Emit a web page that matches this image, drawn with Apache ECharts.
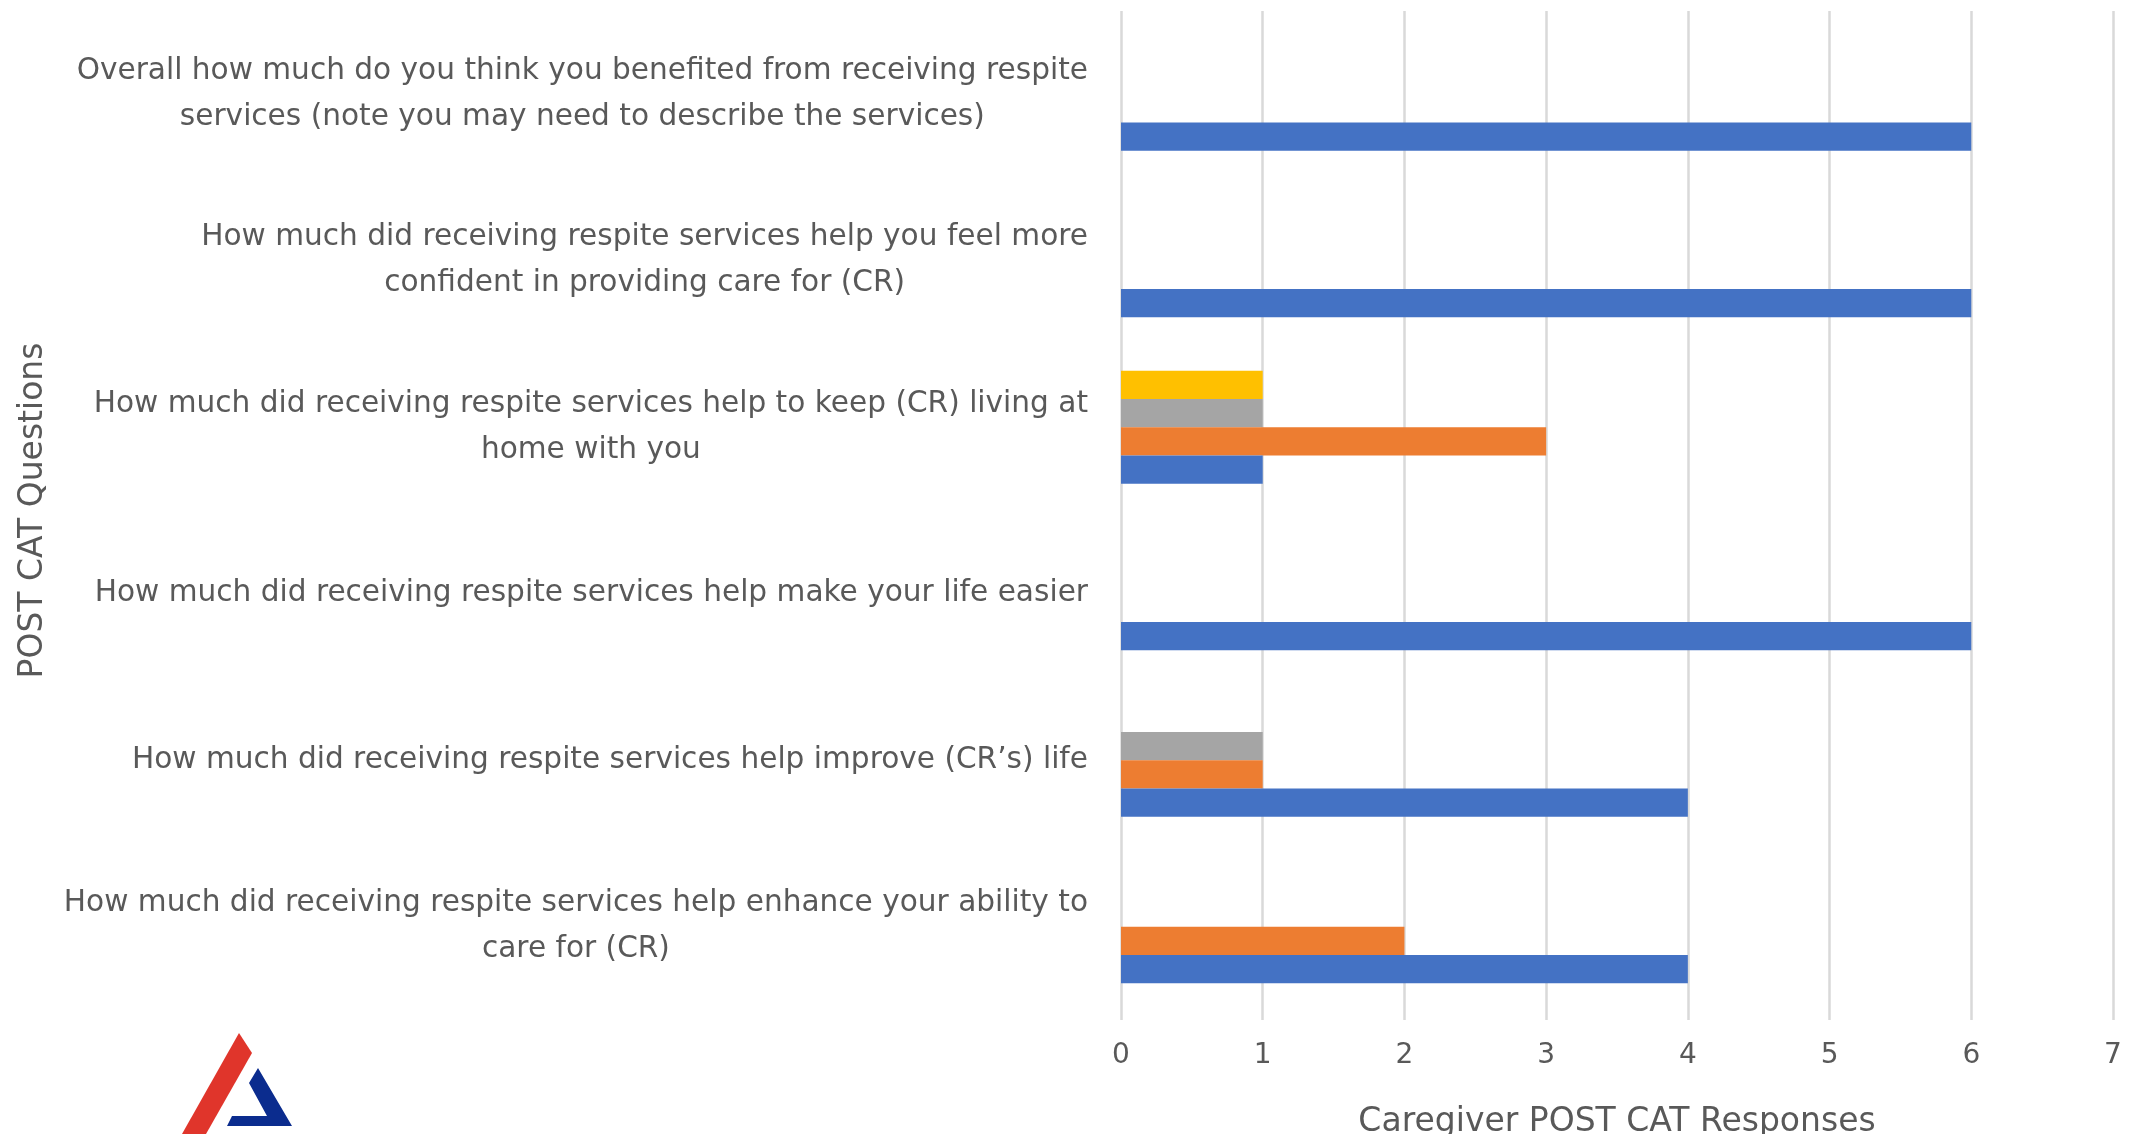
<!DOCTYPE html>
<html>
<head>
<meta charset="utf-8">
<script src="https://cdn.jsdelivr.net/npm/echarts@6/dist/echarts.min.js"></script>
<style>
  html, body { margin: 0; padding: 0; background: #fff; }
  #chart { width: 2141px; height: 1134px; }
</style>
</head>
<body>
<div id="chart"></div>
<script>
// categories, bottom to top as on the chart
var questions = [
  'How much did receiving respite services help enhance your ability to\ncare for (CR)',
  'How much did receiving respite services help improve (CR\u2019s) life',
  'How much did receiving respite services help make your life easier',
  'How much did receiving respite services help to keep (CR) living at\nhome with you',
  'How much did receiving respite services help you feel more\nconfident in providing care for (CR)',
  'Overall how much do you think you benefited from receiving respite\nservices (note you may need to describe the services)'
];
var xTicks = [0, 1, 2, 3, 4, 5, 6, 7];

// response counts per question
var blueVals = [4, 4, 6, 1, 6, 6];
var orangeVals = [2, 1, 0, 3, 0, 0];
var grayVals = [0, 1, 0, 1, 0, 0];
var yellowVals = [0, 0, 0, 1, 0, 0];

var textColor = '#595959';
var font = 'DejaVu Sans';

var myChart = echarts.init(document.getElementById('chart'));

function bar(name, color, data) {
  return {
    name: name,
    type: 'bar',
    data: data,
    barGap: '0%',
    barCategoryGap: '32%',
    itemStyle: { color: color },
    silent: true
  };
}

var option = {
  backgroundColor: '#ffffff',
  animation: false,
  grid: { left: 1121, right: 28, top: 11, bottom: 124, outerBoundsMode: 'none', containLabel: false },
  xAxis: {
    type: 'value',
    min: xTicks[0],
    max: xTicks[xTicks.length - 1],
    interval: 1,
    name: 'Caregiver POST CAT Responses',
    nameLocation: 'middle',
    nameGap: 96,
    nameTextStyle: { color: textColor, fontFamily: font, fontSize: 33 },
    axisLine: { show: false },
    axisTick: { show: true, length: 10, lineStyle: { color: '#d9d9d9', width: 2.5 } },
    axisLabel: { color: textColor, fontFamily: font, fontSize: 28, margin: 32 },
    splitLine: { show: true, lineStyle: { color: '#d9d9d9', width: 2.5 } }
  },
  yAxis: {
    type: 'category',
    data: questions,
    name: 'POST CAT Questions',
    nameLocation: 'middle',
    nameRotate: 90,
    nameGap: 1071,
    nameTextStyle: { color: textColor, fontFamily: font, fontSize: 33 },
    axisLine: { show: false },
    axisTick: { show: false },
    axisLabel: {
      margin: 33,
      align: 'right',
      lineHeight: 46,
      formatter: function (v) {
        return v.split('\n').map(function (s) { return '{c|' + s + '}'; }).join('\n');
      },
      rich: {
        c: { align: 'center', color: textColor, fontFamily: font, fontSize: 29.6, lineHeight: 46 }
      }
    }
  },
  // series drawn top to bottom inside each group
  series: [
    bar('Response 4', '#FFC000', yellowVals),
    bar('Response 3', '#A5A5A5', grayVals),
    bar('Response 2', '#ED7D31', orangeVals),
    bar('Response 1', '#4472C4', blueVals)
  ],
  graphic: [
    {
      type: 'polygon',
      shape: { points: [[239, 1033], [252, 1053], [206, 1134], [182, 1134]] },
      style: { fill: '#E0352B' },
      silent: true
    },
    {
      type: 'polygon',
      shape: { points: [[258, 1068], [292, 1126], [227, 1126], [232, 1116], [267, 1116], [249, 1083]] },
      style: { fill: '#0B2C8E' },
      silent: true
    }
  ]
};

myChart.setOption(option);
</script>
</body>
</html>
